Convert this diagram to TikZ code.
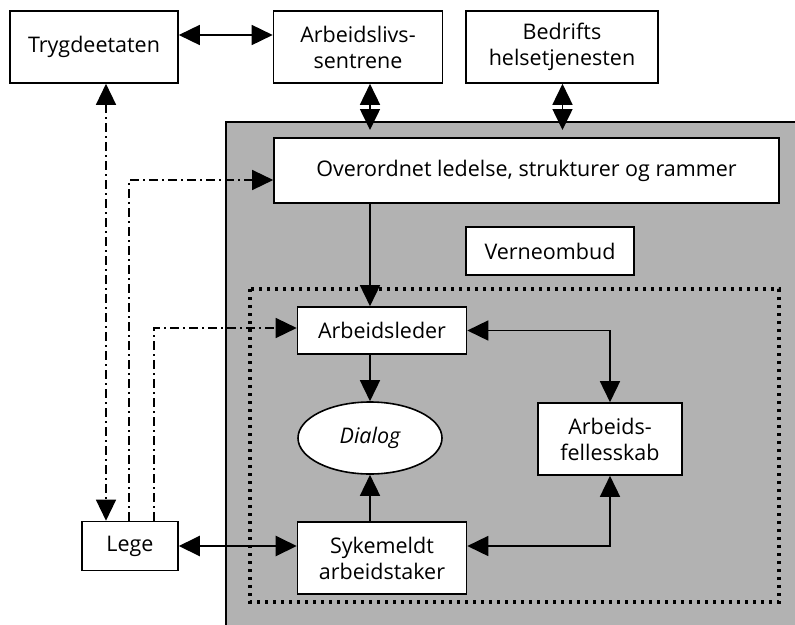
\documentclass[tikz,border=0pt]{standalone}
\usepackage{fontspec}
\setmainfont{Open Sans}
\usepackage{tikz}
\usetikzlibrary{arrows.meta,positioning,calc,shapes.geometric}
\definecolor{cPanel}{HTML}{B2B2B2}
\tikzset{
  box/.style    = {draw, line width=1.6pt, fill=white, align=center,
                   font=\fontsize{21.5}{26}\selectfont, inner sep=2pt},
  oval/.style   = {box, ellipse, font=\fontsize{21.5}{26}\selectfont\itshape},
  tip/.style    = {Triangle[length=21pt,width=20pt]},
  link/.style   = {line width=1.6pt, -{Triangle[length=21pt,width=20pt]}},
  twoway/.style = {line width=1.6pt, {Triangle[length=21pt,width=20pt]}-{Triangle[length=21pt,width=20pt]}},
  thick2way/.style = {twoway, line width=2.4pt},
  dashdot/.style= {line width=1.4pt, dash pattern=on 9pt off 4pt on 2pt off 4pt},
  team/.style   = {line width=3.2pt, dash pattern=on 3.2pt off 4.8pt},
}

\begin{document}
\begin{tikzpicture}[x=1pt,y=-1pt]
  \useasboundingbox (0,0) rectangle (795,624);
  % gray panel for the workplace
  \filldraw[fill=cPanel, line width=1.8pt] (226,122) rectangle (810,640);
  \draw[team] (250,289) rectangle (779,602);

  % outside actors
  \node[box, minimum width=168pt, minimum height=72pt] (tryg) at (94,47) {Trygdeetaten};
  \node[box, minimum width=169pt, minimum height=72pt] (arbsent) at (358,47) {Arbeidslivs-\\sentrene};
  \node[box, minimum width=192pt, minimum height=72pt] (bedr) at (562,47) {Bedrifts\\helsetjenesten};
  \node[box, minimum width=96pt, minimum height=49pt] (lege) at (130,546) {Lege};

  % inside the workplace
  \node[box, minimum width=505pt, minimum height=65pt] (overord) at (526.5,170.5) {Overordnet ledelse, strukturer og rammer};
  \node[box, minimum width=168pt, minimum height=48pt] (verne) at (550,251) {Verneombud};
  \node[box, minimum width=169pt, minimum height=47pt] (arbleder) at (382,330.5) {Arbeidsleder};
  \node[oval, minimum width=144pt, minimum height=72pt, inner sep=0pt] (dialog) at (370,438) {Dialog};
  \node[box, minimum width=144pt, minimum height=72pt] (felles) at (610,439) {Arbeids-\\fellesskab};
  \node[box, minimum width=169pt, minimum height=72pt] (syk) at (382,558) {Sykemeldt\\arbeidstaker};

  \coordinate (arbsentEnd) at (370,130);
  \coordinate (bedrEnd) at (562.5,130);

  % solid connectors
  \draw[twoway] (tryg.east |- 0,35) -- (arbsent.west |- 0,35);
  \draw[twoway] (arbsent.south -| arbsentEnd) -- (arbsentEnd);
  \draw[twoway] (bedr.south -| bedrEnd) -- (bedrEnd);
  \draw[link] (overord.south -| dialog) -- (arbleder.north -| dialog);
  \draw[link] (arbleder.south -| dialog) -- (dialog.north);
  \draw[link] (syk.north -| dialog) -- (dialog.south);
  \draw[twoway] (arbleder.east |- 0,330.5) -| (felles.north);
  \draw[twoway] (syk.east |- 0,546) -| (felles.south);
  \draw[thick2way] (lege.east |- 0,546) -- (syk.west |- 0,546);

  % dash-dotted connectors from Lege
  \draw[dashdot, {Triangle[length=21pt,width=20pt]}-{Triangle[length=21pt,width=20pt]}]
    (tryg.south -| 106,0) -- (lege.north -| 106,0);
  \draw[dashdot, -{Triangle[length=21pt,width=20pt]}]
    (lege.north -| 129,0) |- (overord.west |- 0,180);
  \draw[dashdot, -{Triangle[length=21pt,width=20pt]}]
    (lege.north -| 154,0) |- (arbleder.west |- 0,328);
\end{tikzpicture}
\end{document}
